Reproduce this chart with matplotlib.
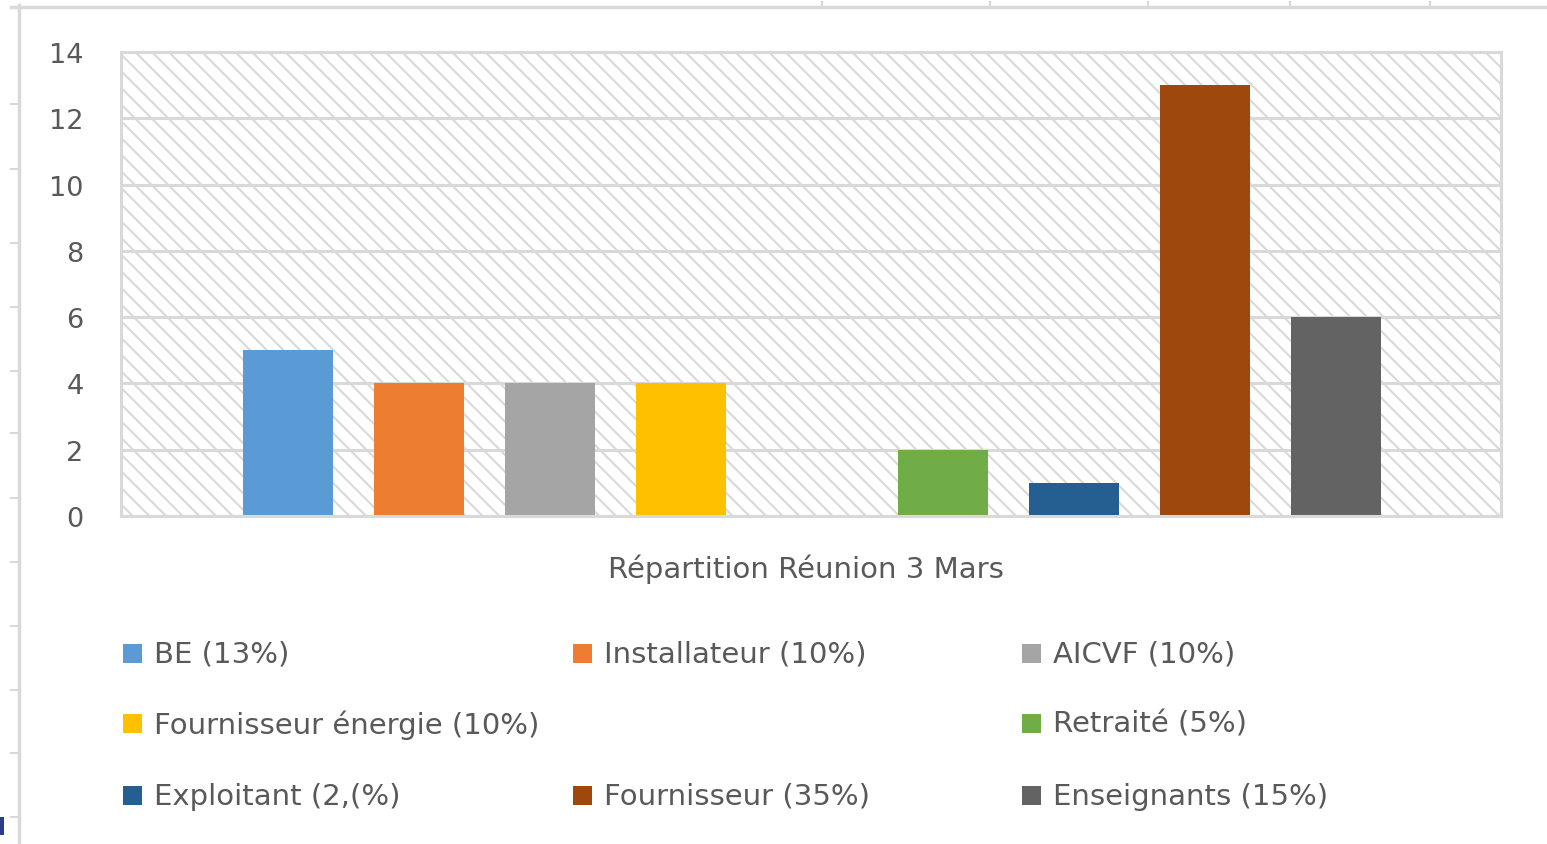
import matplotlib
matplotlib.use("Agg")
import matplotlib.pyplot as plt
from matplotlib.patches import Rectangle
from matplotlib.lines import Line2D

# ===== Data =====
series_names = ["BE (13%)", "Installateur (10%)", "AICVF (10%)",
                "Fournisseur énergie (10%)", "", "Retraité (5%)",
                "Exploitant (2,(%)", "Fournisseur (35%)", "Enseignants (15%)"]
series_values = [5, 4, 4, 4, 0, 2, 1, 13, 6]
series_colors = ["#5b9bd5", "#ed7d31", "#a5a5a5", "#ffc000", "none",
                 "#70ad47", "#255e91", "#9e480e", "#636363"]
category_label = "Répartition Réunion 3 Mars"
y_ticks = [0, 2, 4, 6, 8, 10, 12, 14]

W, H = 1547, 845
plt.rcParams['font.family'] = ['DejaVu Sans']
plt.rcParams['hatch.linewidth'] = 1.5
txt_color = "#595959"
grid_color = "#d9d9d9"
fs_tick = 19.5
fs = 21

fig = plt.figure(figsize=(W / 100, H / 100), dpi=100)

def fx(px):
  return px / W

def fy(py):
  return 1 - py / H

# plot area in pixels: x 121..1501, y 53..517
ax = fig.add_axes([fx(121), fy(517), fx(1501) - fx(121), fy(53) - fy(517)])

# ===== Hatched background =====
ax.add_patch(Rectangle((0, 0), 1, 1, transform=ax.transAxes, facecolor="white",
                       edgecolor=grid_color, hatch="\\\\", lw=0, zorder=0))

# ===== Bars (one category, one bar per series) =====
x = list(range(len(series_values)))
for i, (v, c) in enumerate(zip(series_values, series_colors)):
  if c == "none":
    continue
  ax.bar(x[i], v, width=0.69, color=c, zorder=3)

ax.set_xlim(-1.275, 9.26)
ax.set_ylim(0, 14)
ax.set_yticks(y_ticks)
ax.set_yticklabels([str(t) for t in y_ticks], fontsize=fs_tick, color=txt_color)
ax.tick_params(axis="y", length=0, pad=27)
ax.set_xticks([])
ax.yaxis.grid(True, color=grid_color, lw=2.2, zorder=1)
ax.set_axisbelow(True)
for s in ax.spines.values():
  s.set_color(grid_color)
  s.set_linewidth(2.2)
  s.set_zorder(4)

# category label under the axis
fig.text(fx(806), fy(569), category_label, ha="center", va="center",
         fontsize=fs, color=txt_color)

# ===== Legend (3 columns, row-major, Excel style) =====
col_x = [123, 573, 1022]
row_y = [654, 724, 796]
sq = 19
for i, (name, c) in enumerate(zip(series_names, series_colors)):
  if not name:
    continue
  r, k = divmod(i, 3)
  fig.add_artist(Rectangle((fx(col_x[k]), fy(row_y[r] + sq / 2)), fx(sq), sq / H,
                           transform=fig.transFigure, facecolor=c, lw=0))
  fig.text(fx(col_x[k] + 31), fy(row_y[r] + 1), name, ha="left", va="center",
           fontsize=fs, color=txt_color)

# ===== Sheet gridline artefacts around the chart =====
fig.add_artist(Line2D([fx(19), fx(19)], [fy(6), 0], transform=fig.transFigure,
                      color=grid_color, lw=2.5))
fig.add_artist(Line2D([fx(11), 1], [fy(8), fy(8)], transform=fig.transFigure,
                      color=grid_color, lw=2.5))
for ty in [105, 170, 244, 308, 372, 434, 499, 563, 627, 691, 754, 818]:
  fig.add_artist(Line2D([fx(11), fx(18)], [fy(ty), fy(ty)], transform=fig.transFigure,
                        color=grid_color, lw=1.5))
for tx in [822, 990, 1148, 1290, 1430]:
  fig.add_artist(Line2D([fx(tx), fx(tx)], [fy(3), fy(8)], transform=fig.transFigure,
                        color=grid_color, lw=1.5))
fig.add_artist(Rectangle((0, fy(836)), fx(4), 18 / H, transform=fig.transFigure,
                         facecolor="#2e3a8c", lw=0))

fig.savefig("out.png", dpi=100)
